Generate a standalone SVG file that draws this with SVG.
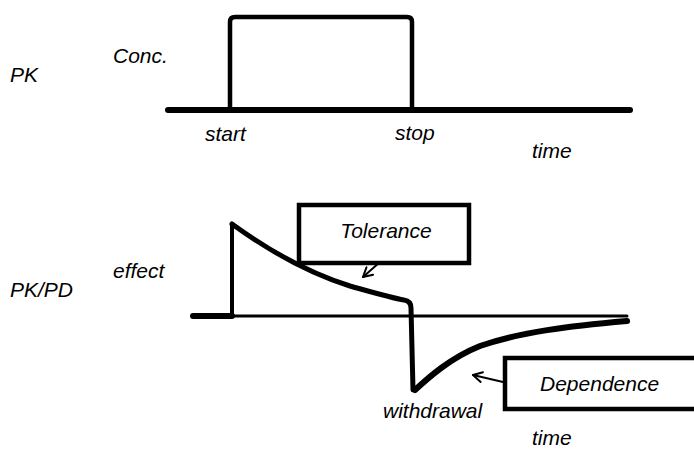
<svg xmlns="http://www.w3.org/2000/svg" width="694" height="450" viewBox="0 0 694 450">
<style>
text{font-family:"Liberation Sans",Arial,sans-serif;font-style:italic;font-size:21px;fill:#000}
.ln{fill:none;stroke:#000;stroke-linecap:round;stroke-linejoin:round}
.box{fill:#fff;stroke:#000;stroke-width:4.5}
</style>
<defs>
<marker id="open" viewBox="0 0 12 12" refX="11" refY="6" markerWidth="12" markerHeight="12" markerUnits="userSpaceOnUse" orient="auto">
<path d="M2,1 L11,6 L2,11" fill="none" stroke="#000" stroke-width="2" stroke-linecap="round" stroke-linejoin="round"/>
</marker>
</defs>
<rect width="694" height="450" fill="#fff"/>
<g id="labels">
<text x="10" y="82">PK</text>
<text x="113" y="63">Conc.</text>
<text x="205" y="141">start</text>
<text x="395" y="140">stop</text>
<text x="532" y="158">time</text>
<text x="10" y="297">PK/PD</text>
<text x="113" y="278">effect</text>
<text x="383" y="418">withdrawal</text>
<text x="532" y="445">time</text>
</g>
<g id="pk-curve">
<path class="ln" d="M168,110 L630,110" stroke-width="6"/>
<path class="ln" d="M230,110 L230,22 Q230,17 235,17 L407,17 Q412,17 412,22 L412,110" stroke-width="4.5"/>
</g>
<g id="pkpd-curve">
<path class="ln" d="M193,316 L627,316" stroke-width="3"/>
<path class="ln" d="M193,316 L232,316" stroke-width="6"/>
<path class="ln" d="M232,316 L232,224" stroke-width="4"/>
<path class="ln" d="M232,224 C268,250 305,272 350,286 C375,293 392,298 404,300 Q411,301 411,308 L413,390" stroke-width="5"/>
<path class="ln" d="M415,390 C428,378 450,358 480,346 C520,332 570,326 627,321" stroke-width="6"/>
</g>
<g id="tolerance">
<rect class="box" x="299" y="205" width="170" height="58"/>
<text x="386" y="238" text-anchor="middle">Tolerance</text>
</g>
<g id="dependence">
<rect class="box" x="505" y="358" width="200" height="51"/>
<text x="540" y="391">Dependence</text>
</g>
<g id="connectors">
<path class="ln" d="M380,262 L363,277" stroke-width="2" marker-end="url(#open)"/>
<path class="ln" d="M503,382 L473,375" stroke-width="2" marker-end="url(#open)"/>
</g>
</svg>
